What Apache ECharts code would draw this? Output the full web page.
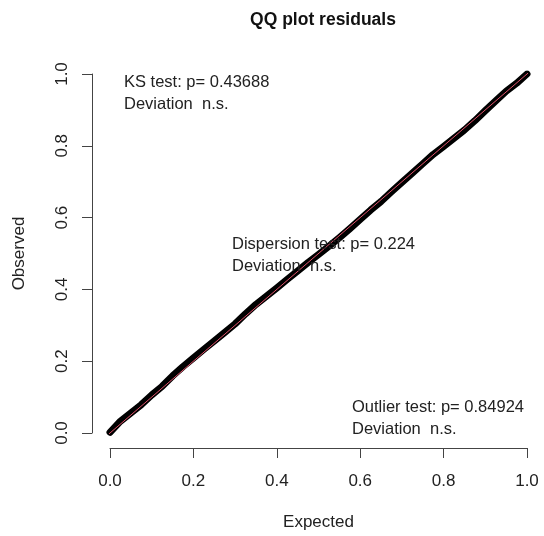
<!DOCTYPE html>
<html>
<head>
<meta charset="utf-8">
<script src="https://cdn.jsdelivr.net/npm/echarts@6/dist/echarts.min.js"></script>
<style>
  html, body { margin: 0; padding: 0; background: #fff; }
  #chart { width: 544px; height: 536px; }
</style>
</head>
<body>
<div id="chart"></div>
<script>
// expected (uniform) quantiles vs observed scaled residuals
var expected = [0, 0.025, 0.05, 0.075, 0.1, 0.125, 0.15, 0.175, 0.2, 0.225,
  0.25, 0.275, 0.3, 0.325, 0.35, 0.375, 0.4, 0.425, 0.45, 0.475,
  0.5, 0.525, 0.55, 0.575, 0.6, 0.625, 0.65, 0.675, 0.7, 0.725,
  0.75, 0.775, 0.8, 0.825, 0.85, 0.875, 0.9, 0.925, 0.95, 0.975, 1];
var observed = [0.002, 0.033, 0.056, 0.079, 0.106, 0.130, 0.159, 0.185, 0.209, 0.233,
  0.256, 0.280, 0.304, 0.332, 0.358, 0.381, 0.404, 0.428, 0.451, 0.475,
  0.497, 0.520, 0.544, 0.569, 0.595, 0.621, 0.645, 0.672, 0.698, 0.724,
  0.750, 0.776, 0.798, 0.821, 0.844, 0.870, 0.898, 0.925, 0.952, 0.974, 1.0];
var refLine = [-0.04, 1.04];
var ticks = [0, 0.2, 0.4, 0.6, 0.8, 1.0];

var notes = [
  { lines: ['KS test: p= 0.43688', 'Deviation  n.s.'], left: 124, top: 74 },
  { lines: ['Dispersion test: p= 0.224', 'Deviation  n.s.'], left: 232, top: 236 },
  { lines: ['Outlier test: p= 0.84924', 'Deviation  n.s.'], left: 352, top: 399 }
];

var chart = echarts.init(document.getElementById('chart'), null, { renderer: 'canvas' });

var qq = expected.map(function (e, i) { return [e, observed[i]]; });
var diag = refLine.map(function (v) { return [v, v]; });

var font = '"Liberation Sans", Arial, Helvetica, sans-serif';
var axisColor = '#444';

function axisOpt(offset, nameGap, name, rotate, margin) {
  return {
    type: 'value',
    min: ticks[0],
    max: ticks[ticks.length - 1],
    interval: 0.2,
    offset: offset,
    name: name,
    nameLocation: 'middle',
    nameGap: nameGap,
    nameTextStyle: { color: '#222', fontSize: 17, fontFamily: font },
    axisLine: { show: true, onZero: false, lineStyle: { color: axisColor, width: 1 } },
    axisTick: { show: true, length: 10, lineStyle: { color: axisColor } },
    axisLabel: {
      color: '#222', fontSize: 17, fontFamily: font, rotate: rotate, margin: margin,
      formatter: function (v) { return v.toFixed(1); }
    },
    splitLine: { show: false }
  };
}

var graphics = [];
notes.forEach(function (n) {
  n.lines.forEach(function (t, k) {
    graphics.push({
      type: 'text', left: n.left, top: n.top + k * 22, z: 100,
      style: { text: t, fill: '#222', font: '16.5px ' + font }
    });
  });
});

var option = {
  animation: false,
  backgroundColor: '#fff',
  title: {
    text: 'QQ plot residuals',
    left: 318, top: 6, textAlign: 'center',
    textStyle: { fontSize: 17.5, fontWeight: 'bold', color: '#111', fontFamily: font }
  },
  grid: { left: 110, right: 17, top: 74, bottom: 103 },
  xAxis: axisOpt(15, 66, 'Expected', 0, 25),
  yAxis: axisOpt(18, 64, 'Observed', 90, 21),
  graphic: graphics,
  series: [
    {
      type: 'line',
      data: qq,
      showSymbol: false,
      lineStyle: { color: '#000', width: 7, cap: 'round', join: 'round' },
      z: 2
    },
    {
      type: 'line',
      data: diag,
      clip: false,
      showSymbol: false,
      lineStyle: { color: '#DF536B', width: 1 },
      z: 3
    }
  ]
};

chart.setOption(option);
</script>
</body>
</html>
